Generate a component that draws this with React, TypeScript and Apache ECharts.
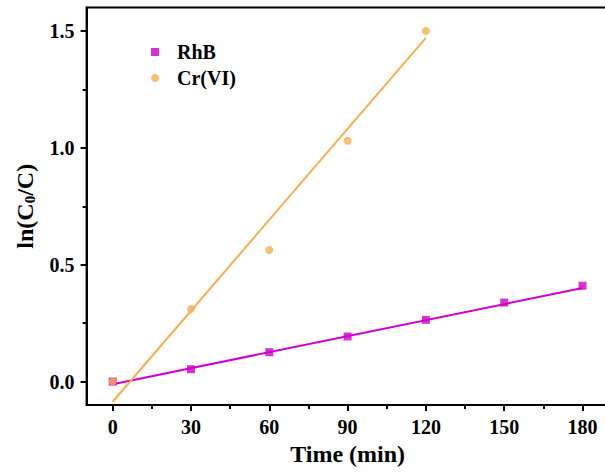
import React, { useEffect, useRef } from "react";
import * as echarts from "echarts";

const times = [0, 30, 60, 90, 120, 150, 180];
const rhbValues = [0, 0.053, 0.126, 0.193, 0.264, 0.338, 0.41];
const crTimes = [0, 30, 60, 90, 120];
const crValues = [0, 0.31, 0.563, 1.03, 1.5];
const rhbFitX = [0, 180];
const rhbFitY = [-0.011, 0.4];
const crFitX = [0, 120];
const crFitY = [-0.086, 1.47];
const xTickValues = [0, 30, 60, 90, 120, 150, 180];
const xMinorValues = [15, 45, 75, 105, 135, 165];
const yTickValues = [0, 0.5, 1.0, 1.5];
const yMinorValues = [0.25, 0.75, 1.25];

const RHB_COLOR = "#CC00CC";
const CR_COLOR = "#F9AE52";
const FONT = "'Liberation Serif', 'Times New Roman', serif";

export default function App() {
  const ref = useRef<HTMLDivElement>(null);
  useEffect(() => {
    if (!ref.current) return;
    const chart = echarts.init(ref.current, undefined, { renderer: "svg" });
    const pair = (xs: number[], ys: number[]) => xs.map((x, i) => [x, ys[i]]);
    const labelStyle = {
      fontFamily: FONT,
      fontWeight: "bold" as const,
      fontSize: 20,
      color: "#000",
    };
    chart.setOption({
      animation: false,
      backgroundColor: "#fff",
      grid: {
        left: 86.6,
        top: 7.5,
        width: 522,
        height: 397.5,
        show: true,
        borderColor: "#000",
        borderWidth: 2,
        backgroundColor: "transparent",
        containLabel: false,
        outerBoundsMode: "none",
      },
      legend: {
        orient: "vertical",
        left: 146,
        top: 37,
        itemWidth: 8,
        itemHeight: 8,
        itemGap: 6,
        selectedMode: false,
        data: [
          { name: "RhB", icon: "rect" },
          { name: "Cr(VI)", icon: "circle" },
        ],
        textStyle: { ...labelStyle, padding: [0, 0, 0, 13] },
      },
      xAxis: [
        {
          type: "value",
          min: -10,
          max: 190,
          position: "bottom",
          name: "Time (min)",
          nameLocation: "middle",
          nameGap: 34,
          nameTextStyle: { fontFamily: FONT, fontWeight: "bold", fontSize: 24, color: "#000" },
          axisLine: { show: true, onZero: false, lineStyle: { color: "#000", width: 2 } },
          axisTick: { show: true, length: 6, customValues: xTickValues, lineStyle: { color: "#000", width: 2 } },
          axisLabel: {
            ...labelStyle,
            margin: 12,
            customValues: xTickValues,
            formatter: (v: number) => String(v),
          },
          splitLine: { show: false },
        },
        {
          type: "value",
          min: -10,
          max: 190,
          position: "bottom",
          offset: 0,
          axisLine: { show: false, onZero: false },
          axisTick: { show: true, length: 4, customValues: xMinorValues, lineStyle: { color: "#000", width: 2 } },
          axisLabel: { show: false },
          splitLine: { show: false },
        },
      ],
      yAxis: [
        {
          type: "value",
          min: -0.1,
          max: 1.6,
          position: "left",
          name: "{a|ln(C}{s|0}{a|/C)}",
          nameLocation: "middle",
          nameGap: 49,
          nameRotate: 90,
          nameTextStyle: {
            rich: {
              a: { fontFamily: FONT, fontWeight: "bold", fontSize: 24, color: "#000", lineHeight: 26, verticalAlign: "middle" },
              s: { fontFamily: FONT, fontWeight: "bold", fontSize: 15, color: "#000", lineHeight: 26, verticalAlign: "bottom", padding: [10, 0, 0, 0] },
            },
          },
          axisLine: { show: true, onZero: false, lineStyle: { color: "#000", width: 2 } },
          axisTick: { show: true, length: 6, customValues: yTickValues, lineStyle: { color: "#000", width: 2 } },
          axisLabel: {
            ...labelStyle,
            margin: 12,
            customValues: yTickValues,
            formatter: (v: number) => v.toFixed(1),
          },
          splitLine: { show: false },
        },
        {
          type: "value",
          min: -0.1,
          max: 1.6,
          position: "left",
          offset: 0,
          axisLine: { show: false, onZero: false },
          axisTick: { show: true, length: 4, customValues: yMinorValues, lineStyle: { color: "#000", width: 2 } },
          axisLabel: { show: false },
          splitLine: { show: false },
        },
      ],
      series: [
        {
          name: "RhB fit",
          type: "line",
          data: pair(rhbFitX, rhbFitY),
          showSymbol: false,
          symbol: "none",
          lineStyle: { color: RHB_COLOR, width: 2 },
          silent: true,
          z: 2,
        },
        {
          name: "Cr fit",
          type: "line",
          data: pair(crFitX, crFitY),
          showSymbol: false,
          symbol: "none",
          lineStyle: { color: CR_COLOR, width: 2 },
          silent: true,
          z: 2,
        },
        {
          name: "RhB",
          type: "scatter",
          data: pair(times, rhbValues),
          symbol: "rect",
          symbolSize: 8,
          itemStyle: { color: RHB_COLOR },
          z: 3,
        },
        {
          name: "Cr(VI)",
          type: "scatter",
          data: pair(crTimes, crValues),
          symbol: "circle",
          symbolSize: 8,
          itemStyle: { color: CR_COLOR },
          z: 4,
        },
      ],
    });
    return () => chart.dispose();
  }, []);
  return (
    <div style={{ position: "fixed", left: 0, top: 0, width: 605, height: 473, overflow: "hidden", background: "#fff" }}>
      <div ref={ref} style={{ width: 625, height: 473 }} />
    </div>
  );
}
